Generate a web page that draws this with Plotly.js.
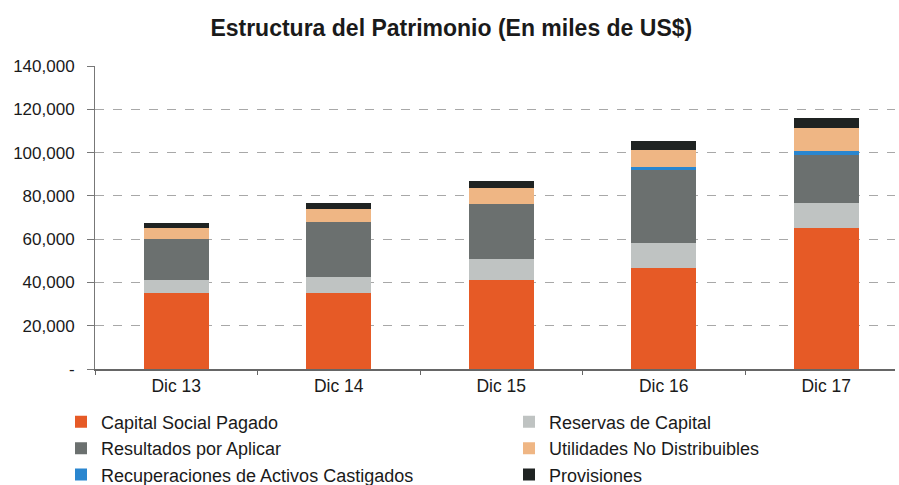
<!DOCTYPE html>
<html>
<head>
<meta charset="utf-8">
<script src="https://cdn.plot.ly/plotly-3.0.1.min.js"></script>
<style>html,body{margin:0;padding:0;background:#fff;}#chart{width:899px;height:485px;}</style>
</head>
<body>
<div id="chart"></div>
<script>
const categories = ["Dic 13", "Dic 14", "Dic 15", "Dic 16", "Dic 17"];
const capitalSocial = [35.0, 35.3, 41.1, 46.5, 65.0].map(v => v * 1000);
const reservas = [6.1, 7.1, 9.6, 11.6, 11.8].map(v => v * 1000);
const resultados = [18.8, 25.4, 25.4, 33.9, 22.0].map(v => v * 1000);
const recuperaciones = [0, 0, 0, 1.5, 2.0].map(v => v * 1000);
const utilidades = [5.1, 6.1, 7.7, 7.7, 10.4].map(v => v * 1000);
const provisiones = [2.3, 2.6, 3.1, 4.2, 4.6].map(v => v * 1000);
const yTickVals = [0, 20000, 40000, 60000, 80000, 100000, 120000, 140000];
const yTickText = ["-", "20,000", "40,000", "60,000", "80,000", "100,000", "120,000", "140,000"];

const series = [
  {name: "Capital Social Pagado", y: capitalSocial, color: "#E65A26", rank: 1},
  {name: "Reservas de Capital", y: reservas, color: "#BFC3C2", rank: 2},
  {name: "Resultados por Aplicar", y: resultados, color: "#6B706F", rank: 3},
  {name: "Recuperaciones de Activos Castigados", y: recuperaciones, color: "#2A86CF", rank: 5},
  {name: "Utilidades No Distribuibles", y: utilidades, color: "#EFB684", rank: 4},
  {name: "Provisiones", y: provisiones, color: "#1F2322", rank: 6}
];

const data = series.map(s => ({
  type: "bar",
  name: s.name,
  x: categories,
  y: s.y,
  marker: {color: s.color, line: {width: 0}},
  legendrank: s.rank,
  hoverinfo: "name+y"
}));

const layout = {
  width: 899,
  height: 485,
  barmode: "stack",
  bargap: 0.6,
  paper_bgcolor: "#fff",
  plot_bgcolor: "#fff",
  font: {family: "Liberation Sans, Arial, sans-serif", color: "#1a1a1a", size: 16},
  margin: {l: 95, r: 4, t: 66, b: 116, autoexpand: false},
  title: {
    text: "<b>Estructura del Patrimonio (En miles de US$)</b>",
    font: {size: 23, color: "#1a1a1a"},
    x: 0.502, xanchor: "center",
    y: 0.942, yanchor: "middle", yref: "container"
  },
  xaxis: {
    type: "category",
    range: [-0.5, 4.423],
    showline: true, linecolor: "#666", linewidth: 1.5,
    ticks: "outside", tickson: "boundaries", ticklen: 4, tickcolor: "#666",
    showgrid: false,
    tickfont: {size: 17.5},
    automargin: false
  },
  yaxis: {
    range: [0, 140000],
    tickvals: yTickVals,
    ticktext: yTickText,
    tickfont: {size: 17},
    showline: true, linecolor: "#777", linewidth: 1,
    ticks: "outside", ticklen: 7, tickcolor: "#777",
    showgrid: true, gridcolor: "#a8a8a8", griddash: "dash", gridwidth: 1,
    zeroline: false,
    ticklabelstandoff: 9,
    automargin: false
  },
  legend: {
    orientation: "h",
    x: -0.0425, xanchor: "left",
    y: -0.114, yanchor: "top",
    entrywidth: 403, entrywidthmode: "pixels",
    font: {size: 18},
    traceorder: "normal",
    bgcolor: "rgba(0,0,0,0)"
  },
  showlegend: true
};

Plotly.newPlot("chart", data, layout, {displayModeBar: false, staticPlot: true});
</script>
</body>
</html>
